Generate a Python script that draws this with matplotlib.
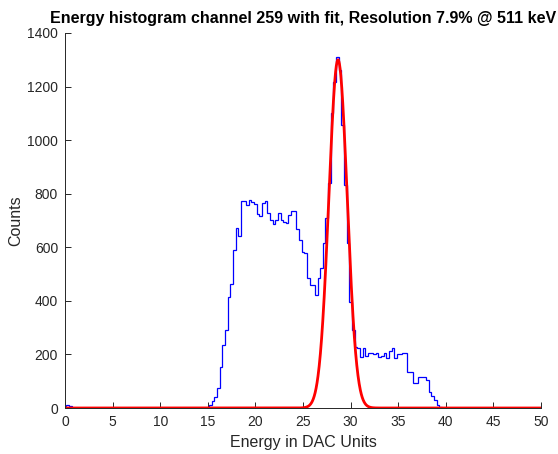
import numpy as np
import matplotlib
matplotlib.use('Agg')
import matplotlib.pyplot as plt
from matplotlib import rcParams

rcParams['font.family'] = ['Liberation Sans', 'DejaVu Sans']

# histogram: 180 bins over 0..50 DAC units, bins centred on k*bin_width
n_bins = 180
bin_width = 50.0 / n_bins
low_counts = [8, 10, 6]          # bins 0..2
main_start = 55                  # first bin of the main spectrum
main_counts = [11, 27, 42, 76, 152, 236, 291, 413, 462, 590,
               673, 642, 774, 774, 758, 778, 768, 760, 724, 717,
               765, 774, 727, 702, 686, 702, 727, 702, 696, 689,
               720, 737, 737, 667, 627, 584, 580, 484, 459, 459,
               422, 484, 521, 617, 711, 839, 1100, 1218, 1309, 1262,
               1057, 833, 615, 397, 291, 229, 223, 192, 225, 196,
               206, 206, 200, 204, 192, 194, 204, 185, 211, 225,
               187, 200, 200, 204, 206, 136, 136, 95, 95, 115,
               117, 117, 105, 60, 45, 30, 12, 5]

# gaussian fit
fit_peak = 1300
fit_center = 28.68
resolution = 7.9   # percent FWHM
fit_sigma = resolution / 100 * fit_center / 2.3548

counts = np.zeros(n_bins)
counts[:len(low_counts)] = low_counts
counts[main_start:main_start + len(main_counts)] = main_counts
edges = (np.arange(n_bins + 1) - 0.5) * bin_width

fig = plt.figure(figsize=(5.58, 4.54), dpi=100)
ax = fig.add_axes([65/558, 46/454, 476/558, 375/454])

ax.stairs(counts, edges, color='#0000ff', lw=0.9, baseline=0)

xf = np.linspace(0, 50, 2001)
yf = fit_peak * np.exp(-(xf - fit_center)**2 / (2 * fit_sigma**2))
ax.plot(xf, yf, color='#ff0000', lw=2.0)

ax.set_xlim(0, 50)
ax.set_ylim(0, 1400)
ax.set_xticks(np.arange(0, 51, 5))
ax.set_yticks(np.arange(0, 1401, 200))

gray = (0.15, 0.15, 0.15)
for s in ['top', 'right']:
    ax.spines[s].set_visible(False)
for s in ['left', 'bottom']:
    ax.spines[s].set_color(gray)
    ax.spines[s].set_linewidth(0.7)
ax.tick_params(direction='in', length=4, width=0.7, color=gray,
               labelcolor=gray, labelsize=10, pad=5)

ax.set_xlabel('Energy in DAC Units', fontsize=11.5, color=gray, labelpad=4)
ax.set_ylabel('Counts', fontsize=11.5, color=gray, labelpad=3)
ax.set_title('Energy histogram channel 259 with fit, Resolution %.1f%% @ 511 keV' % resolution,
             fontsize=11.5, fontweight='bold', pad=7)

fig.savefig('out.png', dpi=100)
